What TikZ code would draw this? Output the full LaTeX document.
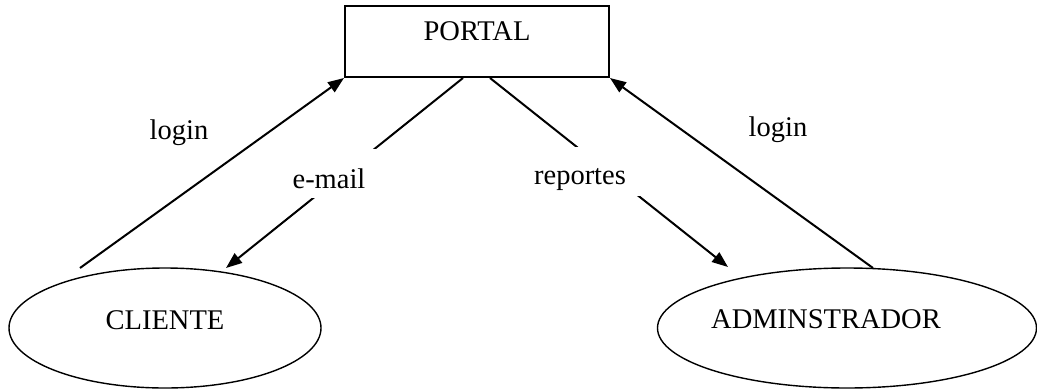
\documentclass[tikz,border=0pt]{standalone}
\usepackage{fontspec}
\setmainfont{Liberation Serif}
\usetikzlibrary{shapes.geometric,arrows.meta}
\begin{document}
\begin{tikzpicture}[x=1pt,y=-1pt,
  every node/.style={font=\fontsize{28.5}{34}\selectfont},
  box/.style={draw,line width=2pt,rectangle,inner sep=0pt,minimum width=264pt,minimum height=71pt},
  oval/.style={draw,line width=1.4pt,ellipse,inner sep=0pt},
  txt/.style={anchor=base,inner sep=0pt},
  gaplbl/.style={anchor=base,fill=white,inner ysep=0pt},
  arr/.style={line width=2pt,-{Triangle[length=16pt,width=12pt]}},
  ln/.style={line width=2pt}]
\path[use as bounding box] (0,0) rectangle (1037,389);
% nodes
\node[box,text height=10pt,text depth=13pt] (portal) at (477,41.5) {PORTAL};
\node[oval,minimum width=312pt,minimum height=120pt] (cliente) at (165,328) {};
\node[txt] (clientetxt) at (165,329) {CLIENTE};
\node[oval,minimum width=379pt,minimum height=120pt] (admin) at (847,328) {};
\node[txt] (admintxt) at (826,328) {ADMINSTRADOR};
% connector end points
\coordinate (cl) at (80,268);
\coordinate (al) at (873,268);
\coordinate (pe) at ([xshift=-14pt]portal.south);
\coordinate (pr) at ([xshift=13pt]portal.south);
\coordinate (ce) at (226,268);
\coordinate (ar) at (728,267);
% connectors
\draw[arr] (cl) -- (portal.south west);
\draw[arr] (al) -- (portal.south east);
\draw[arr] (pe) -- (ce);
\draw[arr] (pr) -- (ar);
% labels
\node[txt] (loginl) at (179,139) {login};
\node[txt] (loginr) at (778,136) {login};
\node[gaplbl,text height=39pt,text depth=10pt,inner xsep=12pt] (email) at (329,188) {e-mail};
\node[gaplbl,text height=37pt,text depth=12pt,inner xsep=15pt] (reportes) at (580,184) {reportes};
\end{tikzpicture}
\end{document}
